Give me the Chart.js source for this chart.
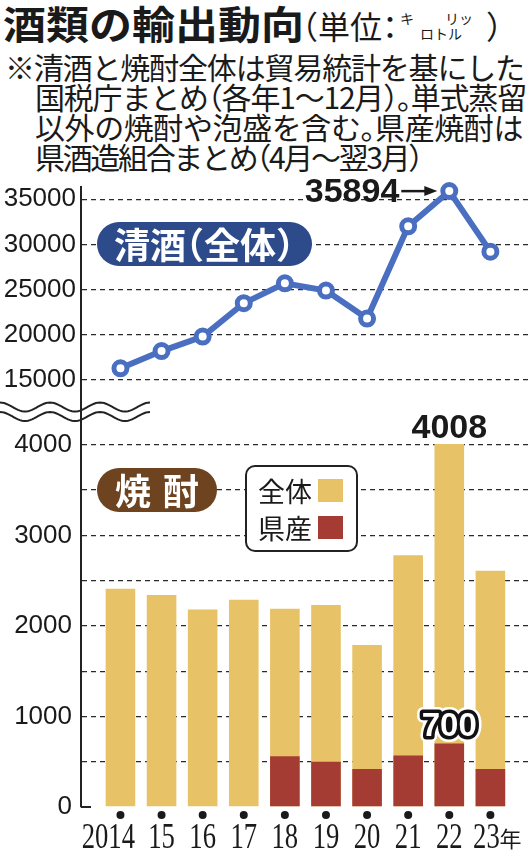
<!DOCTYPE html>
<html lang="ja">
<head>
<meta charset="utf-8">
<title>酒類の輸出動向</title>
<script src="https://cdn.jsdelivr.net/npm/chart.js@4.4.1/dist/chart.umd.min.js"></script>
<style>
  html, body { margin: 0; padding: 0; background: #fff; }
  #page { position: relative; width: 528px; height: 852px; overflow: hidden; color: #1a1a1a;
          font-family: 'Noto Sans CJK JP', sans-serif; }
  #page > * { position: absolute; }
  #title { left: 3px; top: 3px; font-size: 43px; font-weight: 700; line-height: 43px; white-space: nowrap;
           transform: scaleY(0.9); transform-origin: 0 0; }
  #unit { left: 302px; top: 8px; font-size: 32px; line-height: 34px; white-space: nowrap; font-feature-settings: "halt"; }
  #unitKana { left: 400px; top: 11px; width: 90px; height: 30px; font-size: 14px; line-height: 14px; }
  #unitKana span { position: absolute; white-space: nowrap; }
  #unitEnd { left: 486px; top: 8px; font-size: 32px; line-height: 34px; font-feature-settings: "halt"; }
  .note { left: 35px; font-size: 30px; line-height: 30px; white-space: nowrap; font-feature-settings: "halt"; }
  .pill { color: #fff; font-weight: 700; font-size: 36px; line-height: 42px; height: 44px; border-radius: 22px;
          white-space: nowrap; font-feature-settings: "halt"; box-sizing: border-box; }
  #sakePill { left: 97px; top: 222px; width: 215px; background: #2d4a8b; padding-left: 17px; }
  #shochuPill { left: 97px; top: 468px; width: 120px; background: #6d4320; padding-left: 18px; letter-spacing: 12px; }
  #legend { left: 245px; top: 465px; width: 109px; height: 83px; border: 2px solid #222; border-radius: 10px; background: #fff; }
  #legend div { position: absolute; }
  #legend .lab { left: 11px; font-size: 27px; line-height: 30px; }
  #legend .sw { left: 71px; width: 25px; height: 23px; }
  #topChart { left: 0; top: 157px; }
  #bottomChart { left: 0; top: 370px; }
  #wave { left: 0; top: 396px; }
</style>
</head>
<body>
<div id="page">
  <div id="title">酒類の輸出動向</div>
  <div id="unit">（単位：</div>
  <div id="unitKana"><span style="left:0;top:0">キ</span><span style="left:45px;top:0">リッ</span><span style="left:20px;top:15px">ロトル</span></div>
  <div id="unitEnd">）</div>
  <div class="note" style="top:51px;left:5px" data-w="519">※清酒と焼酎全体は貿易統計を基にした</div>
  <div class="note" style="top:81px" data-w="491">国税庁まとめ（各年1〜12月）。単式蒸留</div>
  <div class="note" style="top:111px" data-w="488">以外の焼酎や泡盛を含む。県産焼酎は</div>
  <div class="note" style="top:141px" data-w="386">県酒造組合まとめ（4月〜翌3月）</div>

  <canvas id="topChart" width="528" height="273"></canvas>
  <canvas id="bottomChart" width="528" height="482"></canvas>
  <svg id="wave" width="160" height="32"></svg>

  <div class="pill" id="sakePill">清酒（全体）</div>
  <div class="pill" id="shochuPill">焼酎</div>
  <div id="legend">
    <div class="lab" style="top:9px">全体</div><div class="sw" style="top:12px;background:#e7c267"></div>
    <div class="lab" style="top:46px">県産</div><div class="sw" style="top:49px;background:#a53c33"></div>
  </div>
</div>

<script>
// Data
const years = ['2014', '15', '16', '17', '18', '19', '20', '21', '22', '23'];
const sakeTotal = [16300, 18200, 19800, 23500, 25700, 24900, 21800, 32000, 35894, 29200];
const shochuTotal = [2410, 2340, 2180, 2290, 2190, 2230, 1790, 2780, 4008, 2610];
const shochuPref = [null, null, null, null, 560, 500, 420, 570, 700, 420];
const sakeTicks = [15000, 20000, 25000, 30000, 35000];
const shochuTicks = [0, 1000, 2000, 3000, 4000];
const shochuGrid = [0, 500, 1000, 1500, 2000, 2500, 3000, 3500, 4000];

const ink = '#1a1a1a';
const tickFont = "'Liberation Sans', sans-serif";
const boldFont = "'Liberation Sans', sans-serif";

// squeeze the note lines to the newspaper's column width
document.querySelectorAll('.note').forEach(el => {
    const n = [...el.textContent].length;
    const w = el.getBoundingClientRect().width;
    el.style.letterSpacing = ((+el.dataset.w - w) / n).toFixed(2) + 'px';
});

function points(values) {
    return values.map((v, i) => ({ x: i, y: v }));
}

// shared horizontal layout of both panels
function xAxis() {
    return { type: 'linear', display: false, offset: false, min: -0.96, max: 9.915, ticks: { display: false } };
}

function fitY(scale) {
    scale.width = 81;
}

// Top: sake line
const sakeLabel = {
    id: 'sakeLabel',
    afterDatasetsDraw(chart) {
        const { ctx, scales: { x, y } } = chart;
        const i = sakeTotal.indexOf(Math.max(...sakeTotal));
        const px = x.getPixelForValue(i);
        const py = y.getPixelForValue(sakeTotal[i]);
        ctx.save();
        ctx.fillStyle = ink;
        ctx.strokeStyle = ink;
        ctx.font = 'bold 34px ' + boldFont;
        ctx.textAlign = 'right';
        ctx.textBaseline = 'middle';
        ctx.fillText(String(sakeTotal[i]), px - 50, py + 2);
        ctx.lineWidth = 2.5;
        ctx.beginPath();
        ctx.moveTo(px - 48, py);
        ctx.lineTo(px - 22, py);
        ctx.stroke();
        ctx.beginPath();
        ctx.moveTo(px - 12, py);
        ctx.lineTo(px - 25, py - 5);
        ctx.lineTo(px - 25, py + 5);
        ctx.closePath();
        ctx.fill();
        ctx.restore();
    }
};

new Chart(document.getElementById('topChart'), {
    type: 'line',
    data: {
        datasets: [{
            data: points(sakeTotal),
            borderColor: '#4a6fc0',
            borderWidth: 6,
            pointRadius: 6.5,
            pointBorderWidth: 5,
            pointBackgroundColor: '#fff',
            pointBorderColor: '#4a6fc0',
            clip: false
        }]
    },
    options: {
        responsive: false,
        animation: false,
        layout: { autoPadding: false, padding: { top: 30, bottom: 30, left: 0, right: 0 } },
        plugins: { legend: { display: false }, tooltip: { enabled: false } },
        scales: {
            x: xAxis(),
            y: {
                min: 12790,
                max: 36350,
                afterBuildTicks: s => { s.ticks = sakeTicks.map(v => ({ value: v })); },
                afterFit: fitY,
                grid: { color: '#2a2a2a', lineWidth: 1.3, drawTicks: false },
                border: { display: true, color: '#222', width: 2, dash: [5, 4] },
                ticks: { font: { family: tickFont, size: 26, lineHeight: 1 }, color: ink, padding: 5, callback: v => String(v) }
            }
        }
    },
    plugins: [sakeLabel]
});

// Bottom: shochu bars
const shochuLabels = {
    id: 'shochuLabels',
    afterDraw(chart) {
        const { ctx, chartArea, scales: { x, y } } = chart;
        ctx.save();
        ctx.fillStyle = ink;
        ctx.strokeStyle = '#222';

        // foot of the axis at zero
        ctx.lineWidth = 2;
        ctx.beginPath();
        ctx.moveTo(chartArea.left, y.getPixelForValue(0));
        ctx.lineTo(chartArea.left + 10, y.getPixelForValue(0));
        ctx.stroke();

        // peak values
        const iTop = shochuTotal.indexOf(Math.max(...shochuTotal));
        ctx.font = 'bold 34px ' + boldFont;
        ctx.textAlign = 'center';
        ctx.textBaseline = 'alphabetic';
        ctx.fillText(String(shochuTotal[iTop]), x.getPixelForValue(iTop), y.getPixelForValue(shochuTotal[iTop]) - 6);

        const prefVals = shochuPref.map(v => v || 0);
        const iPref = prefVals.indexOf(Math.max(...prefVals));
        const lx = x.getPixelForValue(iPref);
        const ly = y.getPixelForValue(shochuPref[iPref]) - 8;
        ctx.font = 'bold 33px ' + boldFont;
        ctx.lineJoin = 'round';
        ctx.strokeStyle = '#fff';
        ctx.lineWidth = 12;
        ctx.strokeText(String(shochuPref[iPref]), lx, ly);
        ctx.strokeStyle = '#111';
        ctx.lineWidth = 7;
        ctx.strokeText(String(shochuPref[iPref]), lx, ly);
        ctx.fillStyle = '#fff';
        ctx.fillText(String(shochuPref[iPref]), lx, ly);

        // year dots and labels
        ctx.fillStyle = ink;
        const base = chartArea.bottom;
        years.forEach((lab, i) => {
            const px = x.getPixelForValue(i);
            ctx.beginPath();
            ctx.arc(px, base + 8, 4, 0, Math.PI * 2);
            ctx.fill();

            ctx.save();
            ctx.font = "36px 'Liberation Serif', serif";
            ctx.textBaseline = 'alphabetic';
            if (i === 0) {
                ctx.translate(px + 14.5, base + 41);
                ctx.textAlign = 'right';
            } else if (i === years.length - 1) {
                ctx.translate(px - 4, base + 41);
                ctx.textAlign = 'center';
            } else {
                ctx.translate(px, base + 41);
                ctx.textAlign = 'center';
            }
            ctx.scale(0.74, 1);
            ctx.fillText(lab, 0, 0);
            ctx.restore();
            if (i === years.length - 1) {
                ctx.font = "22px 'Noto Sans CJK JP', sans-serif";
                ctx.textAlign = 'left';
                ctx.fillText('年', px + 9, base + 40);
            }
        });
        ctx.restore();
    }
};

new Chart(document.getElementById('bottomChart'), {
    type: 'bar',
    data: {
        datasets: [
            { label: '県産', data: points(shochuPref), backgroundColor: '#a53c33', grouped: false, order: 0 },
            { label: '全体', data: points(shochuTotal), backgroundColor: '#e7c267', grouped: false, order: 1 }
        ]
    },
    options: {
        responsive: false,
        animation: false,
        layout: { autoPadding: false, padding: { top: 30, bottom: 45, left: 0, right: 0 } },
        plugins: { legend: { display: false }, tooltip: { enabled: false } },
        datasets: { bar: { categoryPercentage: 0.8, barPercentage: 0.9 } },
        scales: {
            x: xAxis(),
            y: {
                min: 0,
                max: 4495,
                afterBuildTicks: s => { s.ticks = shochuGrid.map(v => ({ value: v })); },
                afterFit: fitY,
                grid: {
                    color: c => (c.tick && c.tick.value === 0 ? 'rgba(0,0,0,0)' : '#2a2a2a'),
                    lineWidth: 1.3,
                    drawTicks: false
                },
                border: { display: true, color: '#222', width: 2, dash: [5, 4] },
                ticks: {
                    autoSkip: false,
                    font: { family: tickFont, size: 26, lineHeight: 1 },
                    color: ink,
                    padding: 9,
                    callback: v => (shochuTicks.includes(v) ? String(v) : '')
                }
            }
        }
    },
    plugins: [shochuLabels]
});

// wavy break mark between the two panels
(function drawWave() {
    const svg = document.getElementById('wave');
    [11, 20.5].forEach(c => {
        let d = '';
        for (let x = 0; x <= 150; x += 2) {
            const yy = c - 4.5 * Math.cos(2 * Math.PI * x / 50);
            d += (x === 0 ? 'M' : 'L') + x + ' ' + yy.toFixed(2) + ' ';
        }
        const p = document.createElementNS('http://www.w3.org/2000/svg', 'path');
        p.setAttribute('d', d);
        p.setAttribute('fill', 'none');
        p.setAttribute('stroke', '#222');
        p.setAttribute('stroke-width', '2');
        svg.appendChild(p);
    });
})();
</script>
</body>
</html>
